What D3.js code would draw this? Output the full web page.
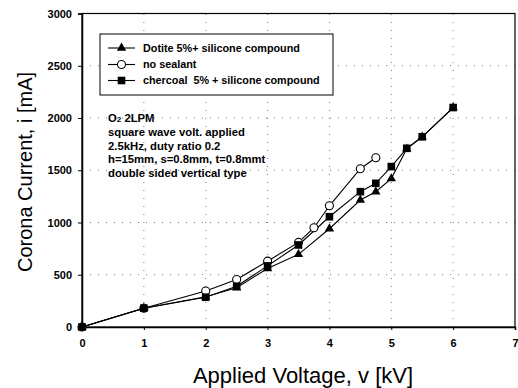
<!DOCTYPE html>
<html><head><meta charset="utf-8">
<script src="https://cdn.jsdelivr.net/npm/d3@7"></script>
<style>body{margin:0;background:#fff}svg{display:block}text{font-family:"Liberation Sans",Arial,sans-serif;white-space:pre}</style>
</head><body>
<svg id="c" width="518" height="388"></svg>
<script>
const xTicks = [0,1,2,3,4,5,6,7];
const yTicks = [0,500,1000,1500,2000,2500,3000];

const dotiteX = [0,1,2,2.5,3,3.5,4,4.5,4.75,5,5.25,5.5,6];
const dotiteY = [0,180,290,375,560,695,940,1215,1295,1420,1705,1820,2100];
const noSealX = [0,1,2,2.5,3,3.5,3.75,4,4.5,4.75];
const noSealY = [0,180,345,455,630,810,950,1160,1515,1620];
const charX = [0,1,2,2.5,3,3.5,4,4.5,4.75,5,5.25,5.5,6];
const charY = [0,180,285,390,585,785,1055,1295,1375,1535,1710,1820,2100];

const seriesNames = ["Dotite 5%+ silicone compound","no sealant","chercoal  5% + silicone compound"];
const annotation = ["O|2| 2LPM","square wave volt. applied","2.5kHz, duty ratio 0.2","h=15mm, s=0.8mm, t=0.8mmt","double sided vertical type"];

const svg = d3.select("#c");
const L=82, R=515, T=13.5, B=327;
const x = d3.scaleLinear().domain([0,7]).range([L,R]);
const y = d3.scaleLinear().domain([0,3000]).range([B,T]);

// grid
const g = svg.append("g");
g.selectAll(".gx").data(xTicks.slice(1,-1)).enter().append("line")
  .attr("x1",d=>x(d)).attr("x2",d=>x(d)).attr("y1",B).attr("y2",T)
  .attr("stroke","#777").attr("stroke-width",1).attr("stroke-dasharray","1,7");
g.selectAll(".gy").data(yTicks.slice(1,-1)).enter().append("line")
  .attr("y1",d=>y(d)).attr("y2",d=>y(d)).attr("x1",L).attr("x2",R)
  .attr("stroke","#777").attr("stroke-width",1).attr("stroke-dasharray","1,7");

// frame
svg.append("rect").attr("x",L).attr("y",T).attr("width",R-L).attr("height",B-T)
  .attr("fill","none").attr("stroke","#000").attr("stroke-width",1.2);

// axes
const xa = svg.append("g").attr("transform",`translate(0,${B})`)
  .call(d3.axisBottom(x).tickValues(xTicks).tickSize(3).tickPadding(9).tickFormat(d3.format("d")));
const ya = svg.append("g").attr("transform",`translate(${L},0)`)
  .call(d3.axisLeft(y).tickValues(yTicks).tickSize(4).tickPadding(6).tickFormat(d3.format("d")));
[xa,ya].forEach(a=>{
  a.select(".domain").attr("stroke","#000").attr("stroke-width",1.5);
  a.selectAll(".tick line").attr("stroke","#000");
  a.selectAll(".tick text").attr("font-size",11).attr("font-weight","bold").attr("fill","#000")
   .attr("font-family","'Liberation Sans',Arial,sans-serif");
});

// series
const data = [
  {xs:dotiteX, ys:dotiteY, sym:"tri"},
  {xs:noSealX, ys:noSealY, sym:"circ"},
  {xs:charX, ys:charY, sym:"sq"}
];
const line = d3.line().x(d=>x(d[0])).y(d=>y(d[1]));
function marker(sel, sym){
  if(sym==="circ"){
    sel.append("circle").attr("r",4).attr("fill","#fff").attr("stroke","#000").attr("stroke-width",1.1);
  } else if(sym==="sq"){
    sel.append("rect").attr("x",-3.8).attr("y",-3.8).attr("width",7.6).attr("height",7.6).attr("fill","#000");
  } else {
    sel.append("path").attr("d",d3.symbol(d3.symbolTriangle,38)()).attr("fill","#000");
  }
}
data.forEach(s=>{
  const pts = s.xs.map((v,i)=>[v,s.ys[i]]);
  svg.append("path").datum(pts).attr("d",line).attr("fill","none").attr("stroke","#000").attr("stroke-width",1.1);
});
data.forEach(s=>{
  const pts = s.xs.map((v,i)=>[v,s.ys[i]]);
  svg.append("g").selectAll("g").data(pts).enter().append("g")
    .attr("transform",d=>`translate(${x(d[0])},${y(d[1])})`)
    .each(function(){ marker(d3.select(this), s.sym); });
});

// legend
const lg = svg.append("g");
lg.append("rect").attr("x",100).attr("y",34).attr("width",233).attr("height",61)
  .attr("fill","#fff").attr("stroke","#000").attr("stroke-width",1);
const rowsY=[48,64.5,80.5];
data.forEach((s,i)=>{
  lg.append("line").attr("x1",108).attr("x2",135).attr("y1",rowsY[i]).attr("y2",rowsY[i]).attr("stroke","#000").attr("stroke-width",1.1);
  const m = lg.append("g").attr("transform",`translate(121.5,${rowsY[i]})`);
  marker(m, s.sym);
  lg.append("text").attr("x",143).attr("y",rowsY[i]+3.8).attr("font-size",10.8).attr("font-weight","bold").text(seriesNames[i]);
});

// annotation
annotation.forEach((t,i)=>{
  const tx = svg.append("text").attr("x",108).attr("y",122+i*13.8).attr("font-size",11.3).attr("font-weight","bold");
  const parts = t.split("|");
  if(parts.length===3){
    tx.append("tspan").text(parts[0]);
    tx.append("tspan").attr("font-size",8).text(parts[1]);
    tx.append("tspan").text(parts[2]);
  } else tx.text(t);
});

// axis titles
svg.append("text").attr("x",303).attr("y",383).attr("text-anchor","middle").attr("font-size",22).text("Applied Voltage, v [kV]");
svg.append("text").attr("transform","translate(32,172) rotate(-90)").attr("text-anchor","middle").attr("font-size",20).text("Corona Current, i [mA]");
</script>
</body></html>
